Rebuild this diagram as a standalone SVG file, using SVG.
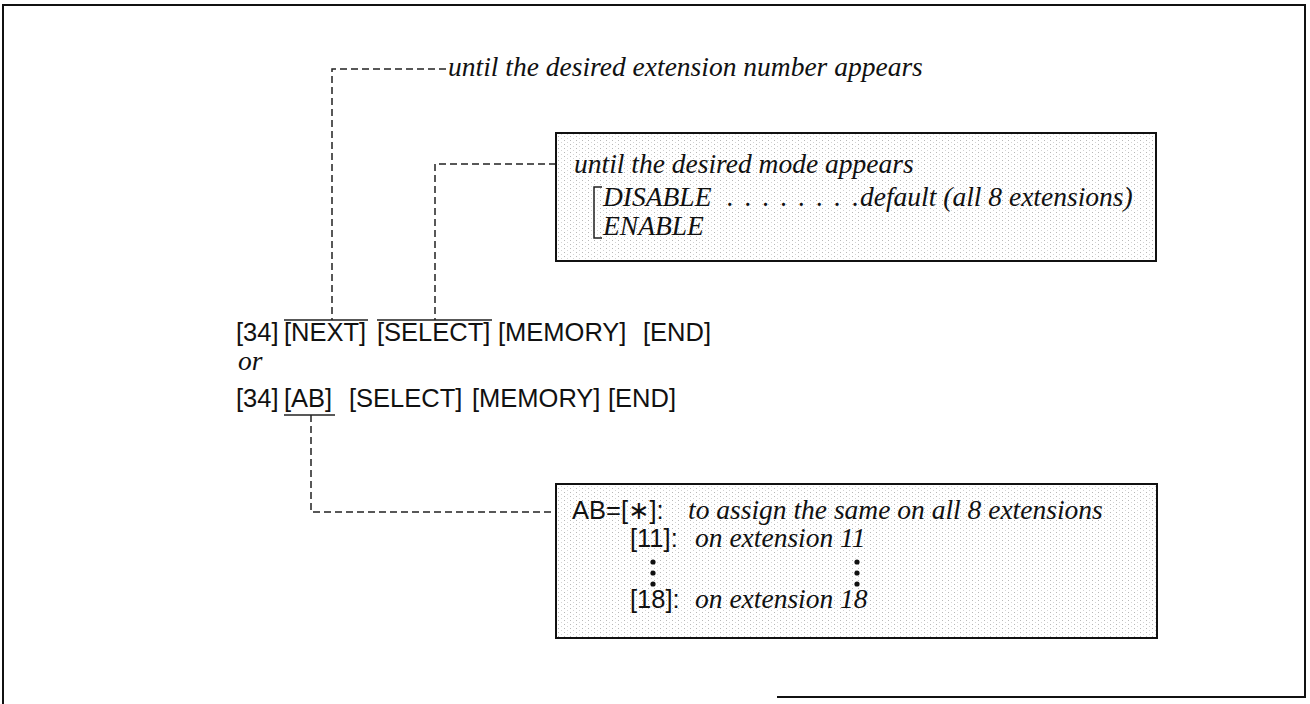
<svg xmlns="http://www.w3.org/2000/svg" width="1310" height="704" viewBox="0 0 1310 704">
<defs>
<pattern id="stip" width="6" height="4" patternUnits="userSpaceOnUse">
<rect x="0" y="0" width="1" height="1" fill="#b8b8b8"/>
<rect x="3" y="2" width="1" height="1" fill="#d4d4d4"/>
</pattern>
</defs>
<style>
.serif{font-family:"Liberation Serif","Times New Roman",serif;font-style:italic;font-size:27.5px;fill:#111}
.sans{font-family:"Liberation Sans",Arial,sans-serif;font-size:25.5px;fill:#111}
.box{fill:url(#stip);stroke:#111;stroke-width:2}
.dash{fill:none;stroke:#222;stroke-width:1.5;stroke-dasharray:7 4}
.rule{fill:none;stroke:#222;stroke-width:1.5}
</style>
<rect width="1310" height="704" fill="#fff"/>
<g id="frame" fill="none" stroke="#111" stroke-width="2">
<path d="M3 704 V5 H1305 V697 H777"/>
</g>
<g id="connectors">
<path class="dash" d="M446 69 H332 V320"/>
<path class="dash" d="M556 164 H435 V320"/>
<path class="dash" d="M311 415 V512 H556"/>
</g>
<g id="top-label">
<text class="serif" x="448" y="76">until the desired extension number appears</text>
</g>
<g id="mode-box">
<rect class="box" x="556" y="133" width="600" height="128"/>
<text class="serif" x="574" y="173">until the desired mode appears</text>
<path class="rule" d="M602 187 H594 V238 H602" stroke-width="2"/>
<text class="serif" x="603" y="206">DISABLE<tspan x="727" letter-spacing="11">........</tspan><tspan x="860">default (all 8 extensions)</tspan></text>
<text class="serif" x="603" y="235">ENABLE</text>
</g>
<g id="command">
<text class="sans" y="341"><tspan x="236">[34]</tspan><tspan x="284">[NEXT]</tspan><tspan x="377">[SELECT]</tspan><tspan x="498">[MEMORY]</tspan><tspan x="643">[END]</tspan></text>
<path class="rule" d="M284 320 H368 M377 320 H492"/>
<text class="serif" x="238" y="370">or</text>
<text class="sans" y="407"><tspan x="236">[34]</tspan><tspan x="284">[AB]</tspan><tspan x="349">[SELECT]</tspan><tspan x="472">[MEMORY]</tspan><tspan x="608">[END]</tspan></text>
<path class="rule" d="M284 415 H335"/>
</g>
<g id="ab-box">
<rect class="box" x="556" y="484" width="601" height="154"/>
<text class="sans" x="572" y="519">AB=[<tspan font-family="'DejaVu Sans',sans-serif">∗</tspan>]:</text>
<text class="serif" x="688" y="519">to assign the same on all 8 extensions</text>
<text class="sans" x="630" y="547">[11]:</text>
<text class="serif" x="695" y="547">on extension 11</text>
<g fill="#111">
<circle cx="653" cy="562" r="2.6"/><circle cx="653" cy="573" r="2.6"/><circle cx="653" cy="584" r="2.6"/>
<circle cx="857" cy="562" r="2.6"/><circle cx="857" cy="573" r="2.6"/><circle cx="857" cy="584" r="2.6"/>
</g>
<text class="sans" x="630" y="608">[18]:</text>
<text class="serif" x="695" y="608">on extension 18</text>
</g>
</svg>
